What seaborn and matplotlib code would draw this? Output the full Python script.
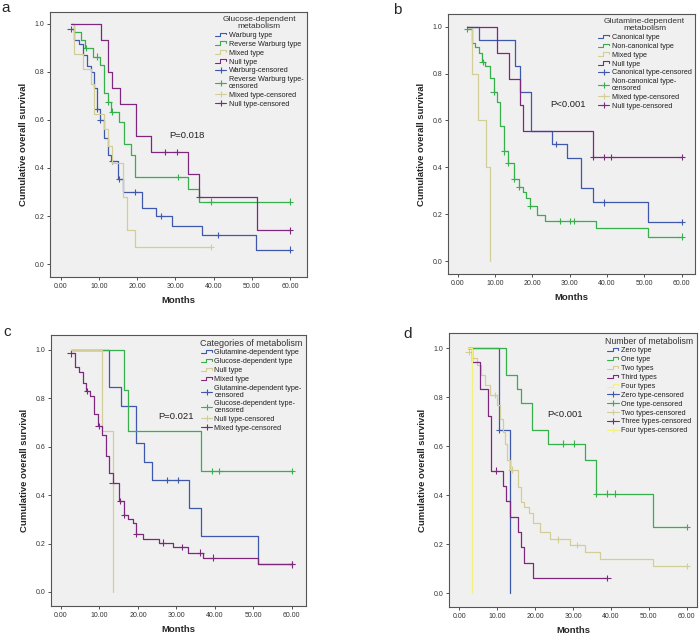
import seaborn as sns
import matplotlib
matplotlib.use('Agg')
import matplotlib.pyplot as plt
import pandas as pd
from matplotlib.lines import Line2D
from matplotlib.legend_handler import HandlerBase

# SPSS-like colours
blue = '#3e58ac'
green = '#35b04a'
tan = '#d3ce97'
purple = '#7c287d'
yellow = '#f5f07a'

# ---------------- panel a : glucose-dependent metabolism
a_warburg_t = [2.5, 3.5, 4.7, 5.9, 6.9, 7.8, 8.7, 9.4, 10.3, 11.4, 12.2, 13.0, 15.0, 16.2, 21.3, 25.0, 29.2, 37.0, 51.0, 60.0]
a_warburg_s = [0.98, 0.935, 0.915, 0.87, 0.825, 0.80, 0.735, 0.645, 0.60, 0.525, 0.455, 0.43, 0.355, 0.30, 0.233, 0.20, 0.16, 0.12, 0.06, 0.06]
a_warburg_ct = [2.5, 9.4, 10.3, 13.5, 15.3, 19.5, 26.3, 41.2, 60.0]
a_warburg_cs = [0.98, 0.645, 0.60, 0.43, 0.355, 0.30, 0.20, 0.12, 0.06]

a_rev_t = [2.5, 3.4, 5.2, 6.2, 8.5, 10.3, 11.4, 12.2, 13.2, 15.2, 16.4, 18.3, 19.3, 33.4, 36.2, 60.0]
a_rev_s = [1.0, 0.968, 0.935, 0.90, 0.864, 0.827, 0.714, 0.675, 0.635, 0.591, 0.50, 0.455, 0.363, 0.313, 0.26, 0.26]
a_rev_ct = [6.6, 9.5, 12.4, 13.5, 30.8, 39.2, 60.0]
a_rev_cs = [0.90, 0.864, 0.675, 0.635, 0.363, 0.26, 0.26]

a_mixed_t = [2.5, 3.4, 5.9, 7.8, 8.7, 11.4, 12.4, 13.4, 16.3, 17.2, 19.4, 39.2]
a_mixed_s = [1.0, 0.875, 0.8125, 0.75, 0.625, 0.5625, 0.49, 0.42, 0.28, 0.14, 0.07, 0.07]
a_mixed_ct = [39.2]
a_mixed_cs = [0.07]

a_null_t = [2.5, 10.4, 12.2, 13.4, 15.5, 19.6, 23.5, 33.4, 36.2, 51.3, 60.0]
a_null_s = [1.0, 0.933, 0.80, 0.733, 0.667, 0.533, 0.467, 0.373, 0.28, 0.14, 0.14]
a_null_ct = [27.3, 30.3, 36.2, 60.0]
a_null_cs = [0.467, 0.467, 0.28, 0.14]

a_labels = ['Warburg type', 'Reverse Warburg type', 'Mixed type', 'Null type']
a_clabels = ['Warburg-censored', 'Reverse Warburg type-\ncensored', 'Mixed type-censored', 'Null type-censored']

# ---------------- panel b : glutamine-dependent metabolism
b_canon_t = [2.6, 5.6, 15.4, 16.8, 19.6, 25.3, 29.3, 33.1, 36.2, 51.0, 60.0]
b_canon_s = [1.0, 0.944, 0.833, 0.722, 0.556, 0.50, 0.438, 0.313, 0.25, 0.167, 0.167]
b_canon_ct = [26.3, 39.1, 60.0]
b_canon_cs = [0.50, 0.25, 0.167]

b_non_t = [2.6, 3.8, 4.7, 5.6, 6.4, 7.4, 8.7, 9.6, 10.5, 11.4, 12.3, 13.5, 15.2, 16.3, 17.5, 18.3, 19.3, 21.2, 23.5, 37.1, 51.0, 60.0]
b_non_s = [0.99, 0.93, 0.915, 0.888, 0.85, 0.834, 0.78, 0.723, 0.68, 0.576, 0.468, 0.42, 0.35, 0.316, 0.295, 0.27, 0.236, 0.196, 0.171, 0.14, 0.104, 0.104]
b_non_ct = [2.6, 6.7, 9.6, 12.5, 13.5, 15.2, 16.4, 19.4, 27.3, 30.2, 31.2, 60.0]
b_non_cs = [0.99, 0.85, 0.723, 0.468, 0.42, 0.35, 0.316, 0.236, 0.171, 0.171, 0.171, 0.104]

b_mixed_t = [2.6, 3.8, 5.5, 7.6, 8.7]
b_mixed_s = [1.0, 0.80, 0.60, 0.40, 0.0]
b_mixed_ct = []
b_mixed_cs = []

b_null_t = [2.6, 10.5, 13.7, 16.6, 17.5, 36.2, 60.0]
b_null_s = [1.0, 0.889, 0.778, 0.667, 0.556, 0.444, 0.444]
b_null_ct = [36.2, 39.1, 41.2, 60.0]
b_null_cs = [0.444, 0.444, 0.444, 0.444]

b_labels = ['Canonical type', 'Non-canonical type', 'Mixed type', 'Null type']
b_clabels = ['Canonical type-censored', 'Non-canonical type-\ncensored', 'Mixed type-censored', 'Null type-censored']

# ---------------- panel c : categories of metabolism
c_glut_t = [2.6, 12.5, 15.5, 19.4, 21.6, 23.6, 33.4, 36.3, 51.3, 60.0]
c_glut_s = [1.0, 0.846, 0.769, 0.615, 0.538, 0.462, 0.346, 0.231, 0.115, 0.115]
c_glut_ct = [27.5, 30.3, 60.0]
c_glut_cs = [0.462, 0.462, 0.115]

c_gluc_t = [2.6, 16.5, 17.5, 36.3, 60.0]
c_gluc_s = [1.0, 0.833, 0.667, 0.5, 0.5]
c_gluc_ct = [39.2, 41.2, 60.0]
c_gluc_cs = [0.5, 0.5, 0.5]

c_null_t = [2.6, 10.6, 13.6]
c_null_s = [1.0, 0.667, 0.0]
c_null_ct = []
c_null_cs = []

c_mixed_t = [2.5, 3.6, 4.7, 5.6, 6.5, 7.5, 8.7, 9.5, 10.6, 11.6, 12.5, 13.4, 15.2, 16.4, 17.5, 18.6, 19.5, 21.4, 25.5, 29.2, 33.1, 37.0, 51.3, 60.0]
c_mixed_s = [0.986, 0.93, 0.91, 0.865, 0.83, 0.81, 0.734, 0.686, 0.647, 0.56, 0.493, 0.452, 0.376, 0.318, 0.30, 0.284, 0.241, 0.22, 0.204, 0.186, 0.163, 0.142, 0.114, 0.114]
c_mixed_ct = [2.5, 6.8, 9.8, 13.4, 15.4, 16.4, 19.5, 26.4, 31.4, 36.2, 39.4, 60.0]
c_mixed_cs = [0.986, 0.83, 0.686, 0.452, 0.376, 0.318, 0.241, 0.204, 0.186, 0.163, 0.142, 0.114]

c_labels = ['Glutamine-dependent type', 'Glucose-dependent type', 'Null type', 'Mixed type']
c_clabels = ['Glutamine-dependent type-\ncensored', 'Glucose-dependent type-\ncensored', 'Null type-censored', 'Mixed type-censored']

# ---------------- panel d : number of metabolism
d_zero_t = [2.4, 10.6, 13.5]
d_zero_s = [1.0, 0.667, 0.0]
d_zero_ct = [10.6]
d_zero_cs = [0.667]

d_one_t = [2.4, 12.3, 15.3, 16.2, 19.3, 23.3, 33.3, 36.2, 51.2, 60.0]
d_one_s = [1.0, 0.889, 0.833, 0.778, 0.667, 0.611, 0.543, 0.407, 0.271, 0.271]
d_one_ct = [27.4, 30.3, 36.2, 39.1, 41.1, 60.0]
d_one_cs = [0.611, 0.611, 0.407, 0.407, 0.407, 0.271]

d_two_t = [2.5, 3.5, 4.6, 5.7, 6.7, 8.1, 10.0, 10.8, 11.5, 12.1, 12.7, 13.5, 15.4, 16.3, 17.2, 18.3, 19.4, 21.2, 23.9, 29.2, 33.3, 37.1, 51.1, 60.0]
d_two_s = [0.986, 0.96, 0.93, 0.89, 0.85, 0.81, 0.77, 0.71, 0.66, 0.61, 0.545, 0.505, 0.435, 0.374, 0.35, 0.327, 0.288, 0.248, 0.22, 0.197, 0.168, 0.14, 0.112, 0.112]
d_two_ct = [2.5, 9.4, 13.8, 26.1, 31.1, 60.0]
d_two_cs = [0.986, 0.81, 0.505, 0.22, 0.197, 0.112]

d_three_t = [2.4, 3.5, 5.5, 7.6, 8.5, 11.5, 12.4, 13.5, 15.4, 16.3, 17.2, 19.4, 39.1]
d_three_s = [1.0, 0.944, 0.833, 0.722, 0.50, 0.438, 0.375, 0.3125, 0.25, 0.1875, 0.125, 0.0625, 0.0625]
d_three_ct = [9.7, 39.1]
d_three_cs = [0.5, 0.0625]

d_four_t = [2.4, 3.4]
d_four_s = [1.0, 0.0]
d_four_ct = []
d_four_cs = []

d_labels = ['Zero type', 'One type', 'Two types', 'Third types', 'Four types']
d_clabels = ['Zero type-censored', 'One type-censored', 'Two types-censored', 'Three types-censored', 'Four types-censored']


sns.set_style('ticks')
plt.rcParams['font.family'] = ['Liberation Sans', 'DejaVu Sans']


class StepHandler(HandlerBase):
    # little step icon like the SPSS legend
    def create_artists(self, legend, orig_handle, xdescent, ydescent, width, height, fontsize, trans):
        x0, y0 = -xdescent, -ydescent
        xs = [x0, x0 + 0.45 * width, x0 + 0.45 * width, x0 + 0.95 * width, x0 + 0.95 * width]
        ys = [y0 + 0.2 * height, y0 + 0.2 * height, y0 + 0.85 * height, y0 + 0.85 * height, y0 + 0.5 * height]
        ln = Line2D(xs, ys, color=orig_handle.get_color(), lw=0.8)
        ln.set_transform(trans)
        return [ln]


def draw_panel(ax, curves, cens, colors, labels, clabels, title, ptext, ppos, xlim, ylim, title_size=6):
    rows = []
    crow = []
    for (t, s), (ct, cs), lab in zip(curves, cens, labels):
        rows += [{'Months': a, 'surv': b, 'grp': lab} for a, b in zip(t, s)]
        crow += [{'Months': a, 'surv': b, 'grp': lab} for a, b in zip(ct, cs)]
    df = pd.DataFrame(rows)
    cdf = pd.DataFrame(crow)
    pal = dict(zip(labels, colors))
    sns.lineplot(data=df, x='Months', y='surv', hue='grp', hue_order=labels, palette=pal,
                 estimator=None, sort=False, drawstyle='steps-post', lw=0.9,
                 legend=False, ax=ax)
    sns.scatterplot(data=cdf, x='Months', y='surv', hue='grp', hue_order=labels, palette=pal,
                    marker='+', s=22, linewidth=0.8, legend=False, ax=ax)
    ax.set_facecolor('#f0f0f0')
    ax.set_xlim(*xlim)
    ax.set_ylim(*ylim)
    ax.set_xticks([0, 10, 20, 30, 40, 50, 60])
    ax.set_xticklabels(['%.2f' % v for v in [0, 10, 20, 30, 40, 50, 60]])
    ax.set_yticks([0, 0.2, 0.4, 0.6, 0.8, 1.0])
    ax.set_yticklabels(['%.1f' % v for v in [0, 0.2, 0.4, 0.6, 0.8, 1.0]])
    ax.tick_params(labelsize=5, length=2.5, width=0.6, pad=1.5, colors='#333333')
    for sp in ax.spines.values():
        sp.set_visible(True)
        sp.set_color('#555555')
        sp.set_linewidth(0.8)
    ax.set_xlabel('Months', fontsize=6.8, fontweight='bold', labelpad=5)
    ax.set_ylabel('Cumulative overall survival', fontsize=6.8, fontweight='bold', labelpad=5)
    ax.text(ppos[0], ppos[1], ptext, fontsize=6.8, color='#222222', ha='center', va='center')

    step_h = [Line2D([], [], color=c) for c in colors]
    cens_h = [Line2D([0], [0], color=c, lw=0.8, marker='+', markersize=5, markeredgewidth=0.8) for c in colors]
    hmap = {h: StepHandler() for h in step_h}
    leg = ax.legend(step_h + cens_h, labels + clabels, handler_map=hmap, title=title,
                    loc='upper right', frameon=False, fontsize=5.2, title_fontsize=title_size,
                    handlelength=1.6, handletextpad=0.3, labelspacing=0.25,
                    borderaxespad=0.2, borderpad=0.3, alignment='center')
    leg.get_title().set_color('#333333')
    leg.get_title().set_linespacing(1.1)
    leg.get_title().set_multialignment('center')
    for txt in leg.get_texts():
        txt.set_color('#222222')
        txt.set_linespacing(0.95)


fig = plt.figure(figsize=(7, 6.36), dpi=100)
ax_a = fig.add_axes([0.0714, 0.5645, 0.367, 0.4167])
ax_b = fig.add_axes([0.64, 0.5692, 0.3529, 0.4088])
ax_c = fig.add_axes([0.0729, 0.0472, 0.3643, 0.4261])
ax_d = fig.add_axes([0.6414, 0.0456, 0.3543, 0.4308])

draw_panel(ax_a,
           [(a_warburg_t, a_warburg_s), (a_rev_t, a_rev_s), (a_mixed_t, a_mixed_s), (a_null_t, a_null_s)],
           [(a_warburg_ct, a_warburg_cs), (a_rev_ct, a_rev_cs), (a_mixed_ct, a_mixed_cs), (a_null_ct, a_null_cs)],
           [blue, green, tan, purple], a_labels, a_clabels,
           'Glucose-dependent\nmetabolism', 'P=0.018', (33, 0.535), (-2.88, 64.45), (-0.054, 1.05))
draw_panel(ax_b,
           [(b_canon_t, b_canon_s), (b_non_t, b_non_s), (b_mixed_t, b_mixed_s), (b_null_t, b_null_s)],
           [(b_canon_ct, b_canon_cs), (b_non_ct, b_non_cs), (b_mixed_ct, b_mixed_cs), (b_null_ct, b_null_cs)],
           [blue, green, tan, purple], b_labels, b_clabels,
           'Glutamine-dependent\nmetabolism', 'P<0.001', (29.5, 0.67), (-2.6, 63.6), (-0.055, 1.054))
draw_panel(ax_c,
           [(c_glut_t, c_glut_s), (c_gluc_t, c_gluc_s), (c_null_t, c_null_s), (c_mixed_t, c_mixed_s)],
           [(c_glut_ct, c_glut_cs), (c_gluc_ct, c_gluc_cs), (c_null_ct, c_null_cs), (c_mixed_ct, c_mixed_cs)],
           [blue, green, tan, purple], c_labels, c_clabels,
           'Categories of metabolism', 'P=0.021', (29.9, 0.727), (-2.6, 63.7), (-0.058, 1.062), 6.5)
draw_panel(ax_d,
           [(d_zero_t, d_zero_s), (d_one_t, d_one_s), (d_two_t, d_two_s), (d_three_t, d_three_s), (d_four_t, d_four_s)],
           [(d_zero_ct, d_zero_cs), (d_one_ct, d_one_cs), (d_two_ct, d_two_cs), (d_three_ct, d_three_cs), (d_four_ct, d_four_cs)],
           [blue, green, tan, purple, yellow], d_labels, d_clabels,
           'Number of metabolism', 'P<0.001', (27.9, 0.73), (-2.7, 62.7), (-0.056, 1.062), 6.3)

# panel letters
fig.text(1 / 700, 1 - 12 / 636, 'a', fontsize=11, va='baseline')
fig.text(393 / 700, 1 - 14 / 636, 'b', fontsize=11, va='baseline')
fig.text(3 / 700, 1 - 336 / 636, 'c', fontsize=11, va='baseline')
fig.text(403 / 700, 1 - 338 / 636, 'd', fontsize=11, va='baseline')

fig.savefig('out.png', dpi=100, facecolor='white')
